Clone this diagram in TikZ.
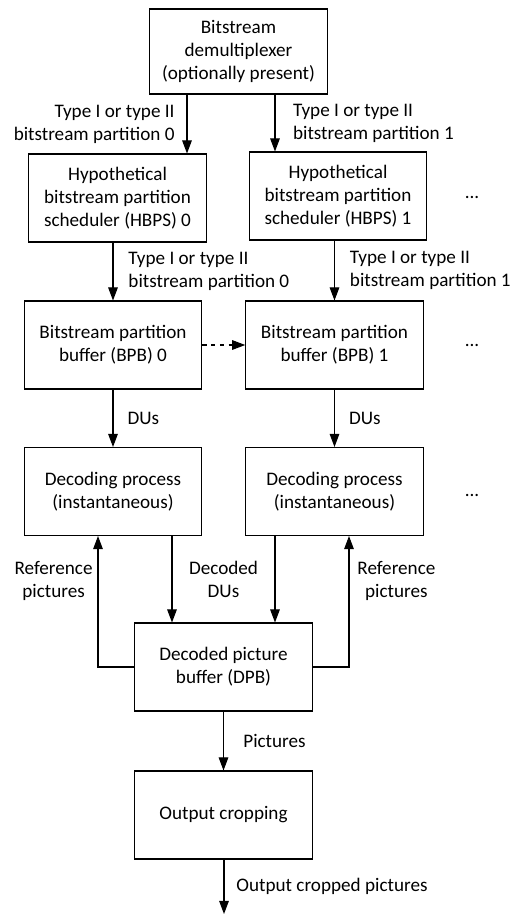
\documentclass[tikz,border=0pt]{standalone}
\usepackage{fontspec}
\setmainfont{Carlito}
\usepackage{tikz}
\usetikzlibrary{arrows.meta, positioning}

\begin{document}
\begin{tikzpicture}[
    x=0.02cm, y=-0.02cm,
    block/.style={rectangle, draw=black, line width=0.6pt, fill=white,
                  minimum width=3.55cm, minimum height=1.76cm, align=center,
                  inner sep=2pt, font=\fontsize{10.9}{13}\selectfont},
    lbl/.style={inner sep=0pt, font=\fontsize{10.9}{13}\selectfont},
    arrow/.style={-{Triangle[length=7.5pt, width=5.5pt]}, line width=0.6pt}
]
    \useasboundingbox (0,0) rectangle (512,914);

    % Partition chain 0 and 1
    \node[block, minimum height=1.7cm] (demux) at (238.5,51.5) {Bitstream\\demultiplexer\\(optionally present)};
    \node[block] (hbps0) at (117.5,198) {Hypothetical\\bitstream partition\\scheduler (HBPS) 0};
    \node[block] (hbps1) at (338,196) {Hypothetical\\bitstream partition\\scheduler (HBPS) 1};
    \node[block] (bpb0) at (113,345) {Bitstream partition\\buffer (BPB) 0};
    \node[block] (bpb1) at (334.5,345) {Bitstream partition\\buffer (BPB) 1};
    \node[block] (dec0) at (113,491.5) {Decoding process\\(instantaneous)};
    \node[block] (dec1) at (334.5,491.5) {Decoding process\\(instantaneous)};

    % Shared blocks
    \node[block] (dpb) at (223.5,667) {Decoded picture\\buffer (DPB)};
    \node[block] (crop) at (223.5,815) {Output cropping};
    \coordinate (out) at (224,914);

    % More partitions
    \node[lbl] (more0) at (472,197) {...};
    \node[lbl] (more1) at (472,345) {...};
    \node[lbl] (more2) at (472,495) {...};

    % Arrows
    \draw[arrow] (demux.south -| 187,0) -- node[lbl, left=6.8pt, align=right] {Type I or type II\\bitstream partition 0} (hbps0.north -| 187,0);
    \draw[arrow] (demux.south -| 275,0) -- node[lbl, right=10pt, align=left] {Type I or type II\\bitstream partition 1} (hbps1.north -| 275,0);
    \draw[arrow] (hbps0.south -| bpb0) -- node[lbl, right=8.5pt, align=left] {Type I or type II\\bitstream partition 0} (bpb0);
    \draw[arrow] (hbps1.south -| bpb1) -- node[lbl, right=8.5pt, align=left] {Type I or type II\\bitstream partition 1} (bpb1);
    \draw[arrow, dashed, dash pattern=on 2.5pt off 2.5pt] (bpb0) -- (bpb1);
    \draw[arrow] (bpb0) -- node[lbl, right=8pt] {DUs} (dec0);
    \draw[arrow] (bpb1) -- node[lbl, right=8pt] {DUs} (dec1);
    \draw[arrow] (dec0.south -| 172,0) -- (dpb.north -| 172,0);
    \draw[arrow] (dec1.south -| 275,0) -- (dpb.north -| 275,0);
    \node[lbl, align=center] (declbl) at (223.5,579) {Decoded\\DUs};
    \draw[arrow] (dpb.west) -| node[lbl, pos=0.83, left=2.8pt, align=center] {Reference\\pictures} ([xshift=-0.3cm]dec0.south);
    \draw[arrow] (dpb.east) -| node[lbl, pos=0.83, right=4.5pt, align=center] {Reference\\pictures} ([xshift=0.29cm]dec1.south);
    \draw[arrow] (dpb) -- node[lbl, right=11pt] {Pictures} (crop);
    \draw[arrow] (crop.south -| out) -- node[lbl, right=6.8pt] {Output cropped pictures} (out);
\end{tikzpicture}
\end{document}
